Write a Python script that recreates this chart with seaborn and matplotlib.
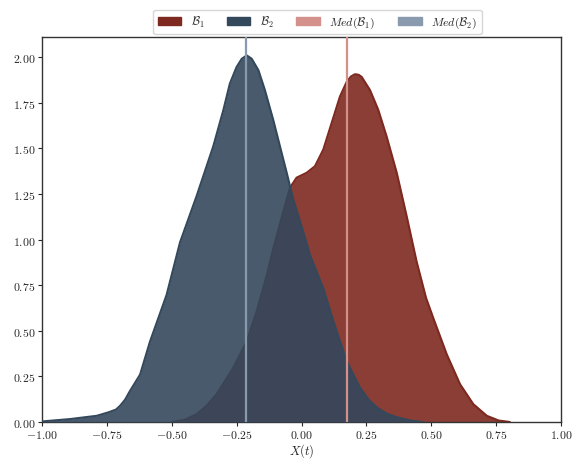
import numpy as np
import pandas as pd
import matplotlib
matplotlib.use("Agg")
import matplotlib.pyplot as plt
import seaborn as sns
from matplotlib.patches import Patch

# ---- data (density curves) ----
b1_x = [-0.50, -0.45, -0.404, -0.365, -0.327, -0.263, -0.211, -0.173, -0.134, -0.109,
        -0.083, -0.057, -0.044, -0.019, 0.020, 0.052, 0.084, 0.116, 0.148, 0.174,
        0.190, 0.206, 0.220, 0.232, 0.264, 0.296, 0.328, 0.367, 0.405, 0.444,
        0.480, 0.508, 0.560, 0.611, 0.662, 0.714, 0.76, 0.803]
b1_y = [0.0, 0.012, 0.043, 0.090, 0.152, 0.297, 0.442, 0.605, 0.804, 0.949,
        1.085, 1.221, 1.285, 1.339, 1.366, 1.402, 1.493, 1.638, 1.783, 1.864,
        1.893, 1.906, 1.903, 1.891, 1.819, 1.710, 1.565, 1.366, 1.130, 0.877,
        0.680, 0.569, 0.370, 0.207, 0.098, 0.034, 0.008, 0.0]

b2_x = [-1.0, -0.892, -0.789, -0.744, -0.715, -0.699, -0.680, -0.661, -0.622, -0.584,
        -0.520, -0.468, -0.404, -0.340, -0.301, -0.276, -0.250, -0.230, -0.211, -0.192,
        -0.166, -0.141, -0.109, -0.083, -0.057, -0.032, 0.007, 0.033, 0.084, 0.123,
        0.174, 0.225, 0.260, 0.290, 0.330, 0.367, 0.420, 0.468]
b2_y = [0.003, 0.016, 0.034, 0.053, 0.068, 0.089, 0.122, 0.170, 0.260, 0.440,
        0.696, 0.985, 1.239, 1.511, 1.710, 1.855, 1.946, 1.991, 2.009, 1.991,
        1.928, 1.819, 1.656, 1.511, 1.366, 1.221, 1.040, 0.913, 0.732, 0.551,
        0.333, 0.189, 0.120, 0.080, 0.045, 0.026, 0.008, 0.0]

med_b1 = 0.175
med_b2 = -0.214

labels = [r"$\mathcal{B}_1$", r"$\mathcal{B}_2$", r"$Med(\mathcal{B}_1)$", r"$Med(\mathcal{B}_2)$"]
c_b1, c_b2 = "#7d291f", "#34485c"
c_m1, c_m2 = "#d4908a", "#8a9aae"

sns.set_theme(style="ticks")
plt.rcParams["font.family"] = ["serif"]
plt.rcParams["font.serif"] = ["cmr10", "DejaVu Serif"]
plt.rcParams["mathtext.fontset"] = "cm"
plt.rcParams["axes.formatter.use_mathtext"] = True
plt.rcParams["axes.unicode_minus"] = True

fig = plt.figure(figsize=(5.79, 4.60), dpi=100)
ax = fig.add_axes([42/579, 1-423/460, (561-42)/579, (423-38)/460])

df1 = pd.DataFrame({"x": b1_x, "y": b1_y})
df2 = pd.DataFrame({"x": b2_x, "y": b2_y})

ax.fill_between(df1["x"], df1["y"], color=c_b1, alpha=0.9, linewidth=0, zorder=1)
sns.lineplot(data=df1, x="x", y="y", ax=ax, color=c_b1, lw=1.5, sort=False, zorder=2)
ax.fill_between(df2["x"], df2["y"], color=c_b2, alpha=0.9, linewidth=0, zorder=3)
sns.lineplot(data=df2, x="x", y="y", ax=ax, color=c_b2, lw=1.5, sort=False, zorder=4)

ax.axvline(med_b1, color=c_m1, lw=1.6, zorder=5)
ax.axvline(med_b2, color=c_m2, lw=1.6, zorder=5)

ax.set_xlim(-1, 1)
ax.set_ylim(0, 2.11)
ax.set_xticks(np.arange(-1, 1.01, 0.25))
ax.set_yticks(np.arange(0, 2.01, 0.25))
ax.xaxis.set_major_formatter(matplotlib.ticker.FormatStrFormatter("$%.2f$"))
ax.yaxis.set_major_formatter(matplotlib.ticker.FormatStrFormatter("$%.2f$"))
ax.set_xlabel(r"$X(t)$", fontsize=9)
ax.xaxis.set_label_coords(0.5, -0.05)
ax.set_ylabel("")
ax.tick_params(labelsize=8.5, length=3, width=0.8, pad=1.5)
for s in ax.spines.values():
    s.set_color("#333333")
    s.set_linewidth(1.0)

handles = [Patch(color=c_b1), Patch(color=c_b2), Patch(color=c_m1), Patch(color=c_m2)]
fig.legend(handles, labels, loc="upper center", bbox_to_anchor=(317.5/579, 1-5/460),
           ncol=4, fontsize=8.5, frameon=True, handlelength=2.0, columnspacing=1.9,
           borderpad=0.35, handletextpad=0.8)

fig.savefig("out.png", dpi=100)
